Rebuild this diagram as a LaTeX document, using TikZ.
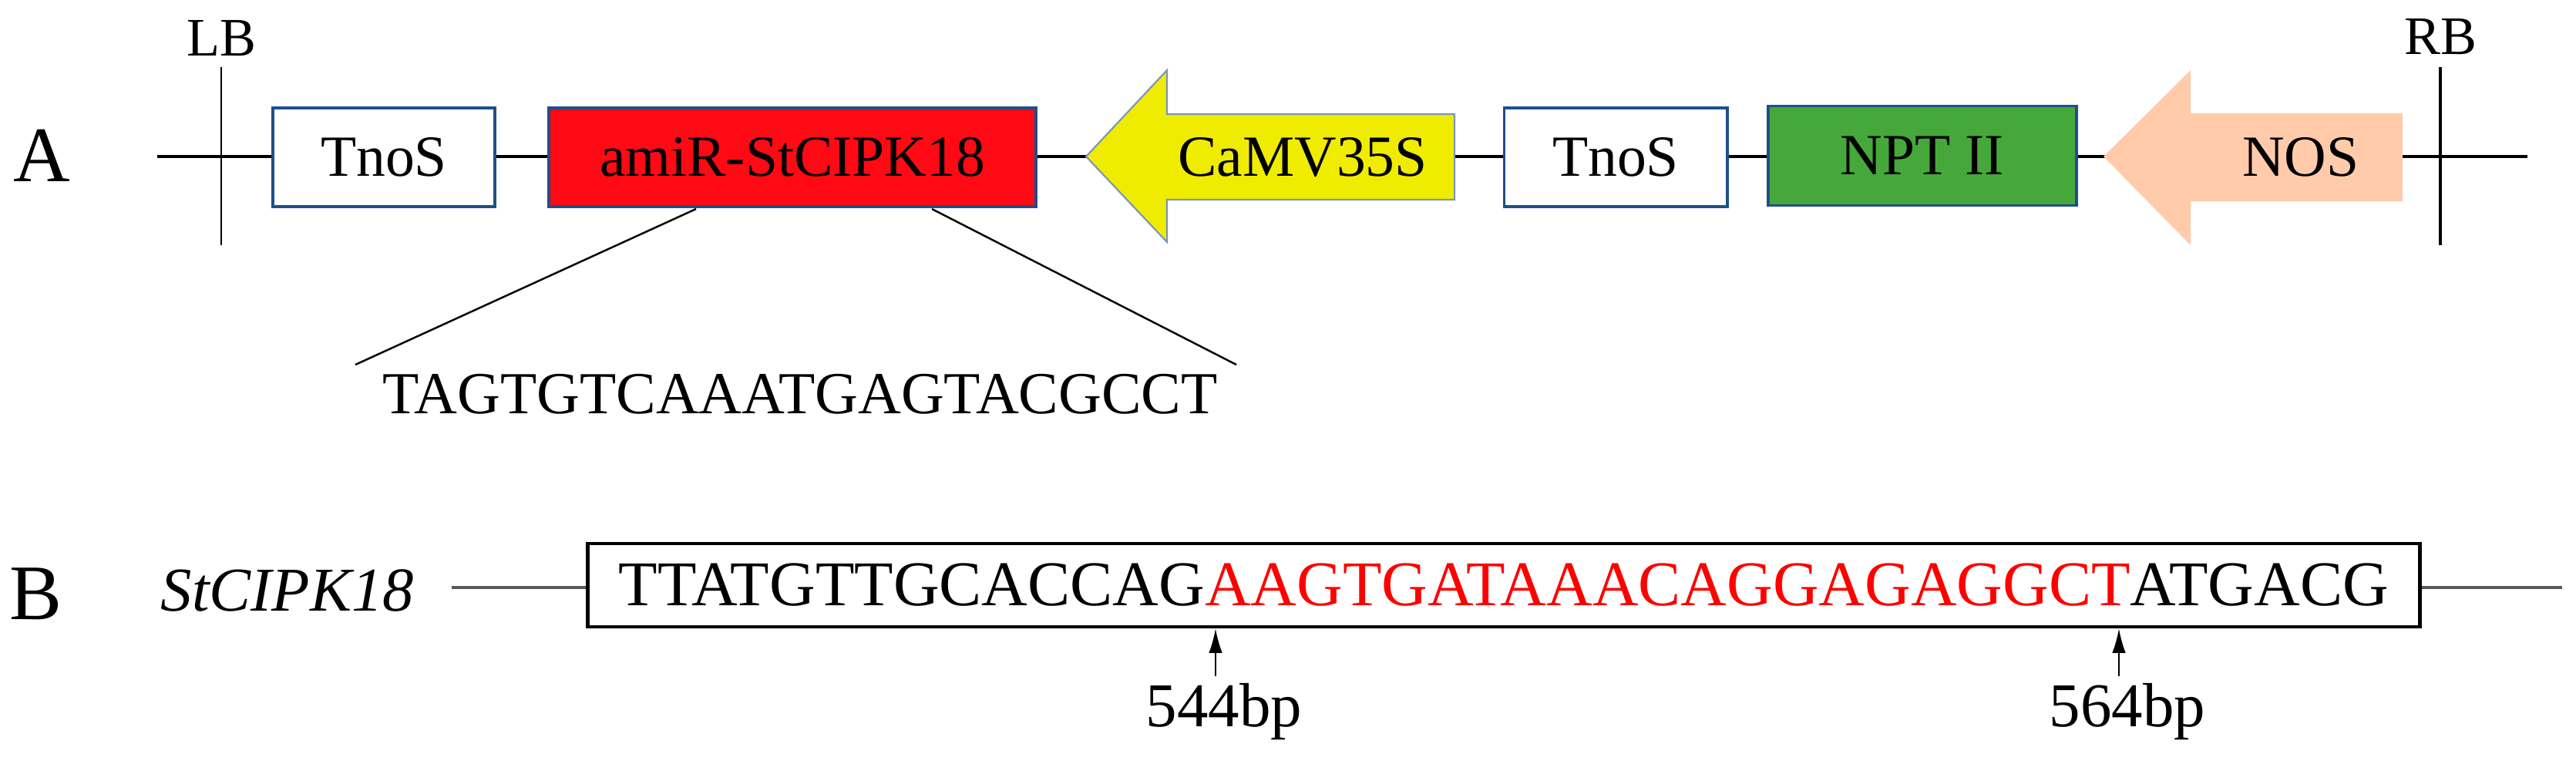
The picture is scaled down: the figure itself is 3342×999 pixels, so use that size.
\documentclass[tikz,border=0pt]{standalone}
\usepackage{fontspec}
\setmainfont{Liberation Serif}
\usetikzlibrary{arrows.meta}
\begin{document}
\begin{tikzpicture}[x=0.01cm,y=-0.01cm,
  lbl/.style={font=\fontsize{21.5}{24}\selectfont,inner sep=0pt},
  seg/.style={draw=segblue,line width=1.1pt,minimum height=1.28cm,inner sep=0pt,font=\fontsize{21.5}{24}\selectfont},
  bb/.style={line width=1.3pt}]
\definecolor{segblue}{HTML}{1F4E8C}
\definecolor{camy}{HTML}{F0EC00}
\definecolor{nosc}{HTML}{FFCBAA}
\definecolor{nptg}{HTML}{46A83A}
\definecolor{amir}{HTML}{FF0A14}
\useasboundingbox (0,0) rectangle (3342,999);
% A
\node[font=\fontsize{29}{32}\selectfont,inner sep=0pt] (A) at (54,202) {A};
\coordinate (ls) at (204,203);
\coordinate (le) at (3279,203);
\draw[bb] (ls) -- (le);
\coordinate (lbt) at (287,87); \coordinate (lbb) at (287,318);
\draw[line width=0.7pt] (lbt) -- (lbb);
\node[lbl,font=\fontsize{20}{22}\selectfont] (LB) at (287,50) {LB};
\coordinate (rbt) at (3166,87); \coordinate (rbb) at (3166,318);
\draw[line width=1pt] (rbt) -- (rbb);
\node[lbl,font=\fontsize{20}{22}\selectfont] (RB) at (3166,48) {RB};
% boxes
\node[seg,fill=white,minimum width=2.88cm] (t1) at (498,204) {TnoS};
\node[seg,fill=amir,minimum width=6.31cm] (ami) at (1028,204) {amiR-StCIPK18};
\node[seg,fill=white,minimum width=2.89cm] (t2) at (2096,204) {TnoS};
\node[seg,fill=nptg,minimum width=3.99cm,minimum height=1.29cm] (npt) at (2494,202) {NPT II};
% CaMV arrow
\filldraw[fill=camy,draw=segblue!60,line width=0.6pt] (1409,203) -- (1514,91) -- (1514,148) -- (1887,148) -- (1887,259) -- (1514,259) -- (1514,314) -- cycle;
\node[lbl] (cam) at (1690,204) {CaMV35S};
% NOS arrow
\fill[nosc] (2729,203) -- (2842,91) -- (2842,147) -- (3117,147) -- (3117,261) -- (2842,261) -- (2842,318) -- cycle;
\node[lbl] (nos) at (2985,204) {NOS};
% zoom lines
\node[lbl,font=\fontsize{22}{24}\selectfont] (seq) at (1038,511) {TAGTGTCAAATGAGTACGCCT};
\coordinate (z1) at (903,271); \coordinate (z2) at (1209,271);
\coordinate (s1) at (461,473); \coordinate (s2) at (1604,473);
\draw[line width=0.7pt] (z1) -- (s1);
\draw[line width=0.7pt] (z2) -- (s2);
% B
\node[font=\fontsize{29}{32}\selectfont,inner sep=0pt] (B) at (47,770) {B};
\node[lbl,font=\fontsize{23}{26}\selectfont\itshape] (gene) at (373,766) {StCIPK18};
\node[draw,line width=1.3pt,minimum width=23.76cm,minimum height=1.08cm,inner sep=0pt,font=\fontsize{23.5}{26}\selectfont] (box) at (1951,759)
  {TTATGTTGCACCAG\textcolor{red}{AAGTGATAAACAGGAGAGGCT}ATGACG};
\coordinate (l1) at (586,762); \coordinate (r1) at (3324,762);
\draw[gray!70!black,line width=1.1pt] (l1) -- (box.west |- l1);
\draw[gray!70!black,line width=1.1pt] (box.east |- r1) -- (r1);
\node[lbl,font=\fontsize{23}{26}\selectfont] (p1) at (1588,923) {544bp};
\node[lbl,font=\fontsize{23}{26}\selectfont] (p2) at (2760,923) {564bp};
\coordinate (a1) at (1577,877); \coordinate (a2) at (2749,877);
\draw[-{Latex[length=9pt,width=5pt]},line width=0.6pt] (a1) -- (box.south -| a1);
\draw[-{Latex[length=9pt,width=5pt]},line width=0.6pt] (a2) -- (box.south -| a2);
\end{tikzpicture}
\end{document}
